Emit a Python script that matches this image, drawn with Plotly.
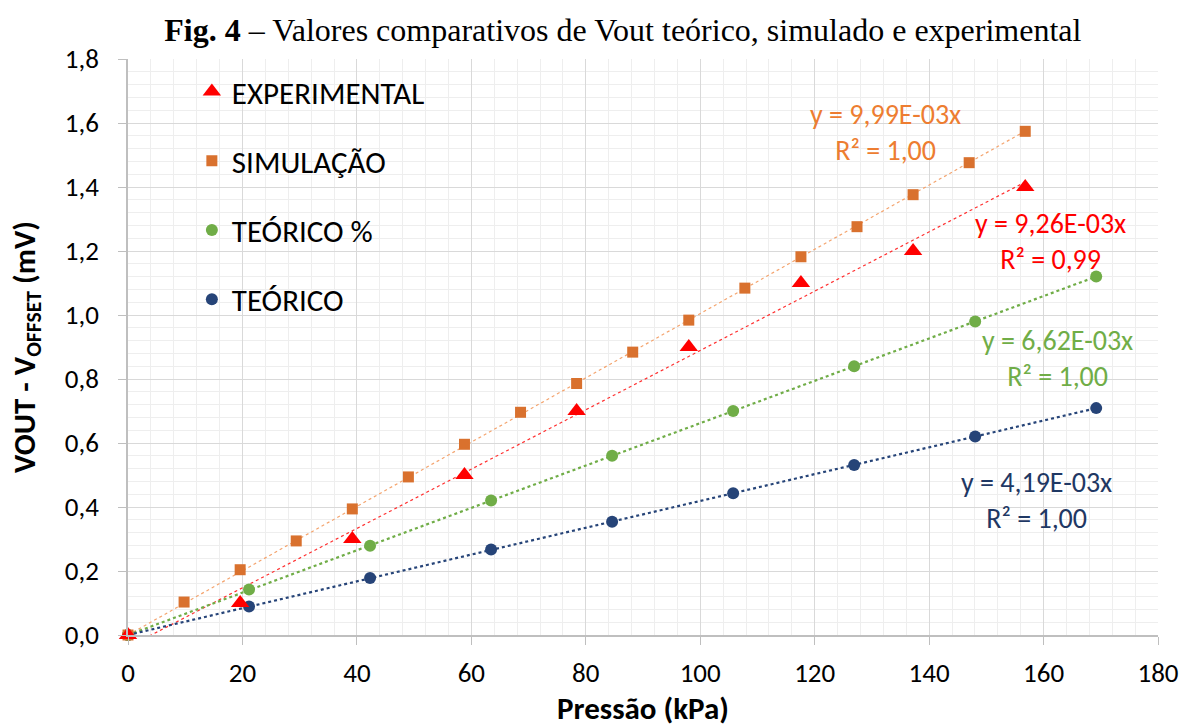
import numpy as np
import plotly.graph_objects as go

# ---- data ----
exp_x = [0, 19.6, 39.2, 58.8, 78.4, 98.0, 117.6, 137.2, 156.8]
exp_y = [0.0, 0.10, 0.30, 0.50, 0.70, 0.90, 1.10, 1.20, 1.40]

sim_x = [0, 9.8, 19.6, 29.4, 39.2, 49.0, 58.8, 68.6, 78.4, 88.2, 98.0,
         107.8, 117.6, 127.4, 137.2, 147.0, 156.8]
sim_y = [0.0, 0.103, 0.204, 0.294, 0.394, 0.494, 0.596, 0.696, 0.786, 0.884, 0.984,
         1.084, 1.182, 1.276, 1.376, 1.476, 1.574]

teo_x = [0, 21.15, 42.3, 63.45, 84.6, 105.75, 126.9, 148.05, 169.2]
teop_y = [0.0, 0.142, 0.279, 0.420, 0.560, 0.700, 0.840, 0.980, 1.120]
teo_y = [0.0, 0.089, 0.178, 0.267, 0.354, 0.443, 0.531, 0.620, 0.709]

names = ["EXPERIMENTAL", "SIMULAÇÃO", "TEÓRICO %", "TEÓRICO"]
colors = {"exp": "#FF0000", "sim": "#D9712E", "teop": "#70AD47", "teo": "#264478"}
eq_labels = {
    "sim": "y = 9,99E-03x<br>R² = 1,00",
    "exp": "y = 9,26E-03x<br>R² = 0,99",
    "teop": "y = 6,62E-03x<br>R² = 1,00",
    "teo": "y = 4,19E-03x<br>R² = 1,00",
}

FONT = "Calibri, Carlito, Lato, sans-serif"

fig = go.Figure()


def origin_fit(x, y):
    x = np.asarray(x, float); y = np.asarray(y, float)
    k = (x * y).sum() / (x * x).sum()
    xs = np.array([x.min(), x.max()])
    return xs, k * xs


def lin_fit(x, y):
    x = np.asarray(x, float); y = np.asarray(y, float)
    a, b = np.polyfit(x, y, 1)
    xs = np.array([x.min(), x.max()])
    return xs, a * xs + b

# trendlines
tx, ty = origin_fit(sim_x, sim_y)
fig.add_trace(go.Scatter(x=tx, y=ty, mode="lines", showlegend=False, hoverinfo="skip",
                         line=dict(color="#F4A46E", width=1.2, dash="dot")))
tx, ty = lin_fit(exp_x, exp_y)
fig.add_trace(go.Scatter(x=tx, y=ty, mode="lines", showlegend=False, hoverinfo="skip",
                         line=dict(color="#FF3030", width=1.2, dash="dot")))
tx, ty = origin_fit(teo_x, teop_y)
fig.add_trace(go.Scatter(x=tx, y=ty, mode="lines", showlegend=False, hoverinfo="skip",
                         line=dict(color=colors["teop"], width=2.2, dash="dot")))
tx, ty = origin_fit(teo_x, teo_y)
fig.add_trace(go.Scatter(x=tx, y=ty, mode="lines", showlegend=False, hoverinfo="skip",
                         line=dict(color=colors["teo"], width=2.2, dash="dot")))

# markers
fig.add_trace(go.Scatter(x=teo_x, y=teo_y, mode="markers", name=names[3], legendgroup="d",
                         legendrank=4, cliponaxis=False,
                         marker=dict(symbol="circle", size=12, color=colors["teo"])))
fig.add_trace(go.Scatter(x=teo_x, y=teop_y, mode="markers", name=names[2], legendgroup="c",
                         legendrank=3, cliponaxis=False,
                         marker=dict(symbol="circle", size=12, color=colors["teop"])))
fig.add_trace(go.Scatter(x=sim_x, y=sim_y, mode="markers", name=names[1], legendgroup="b",
                         legendrank=2, cliponaxis=False,
                         marker=dict(symbol="square", size=11, color=colors["sim"])))
fig.add_trace(go.Scatter(x=exp_x, y=exp_y, mode="markers", name=names[0], legendgroup="a",
                         legendrank=1, cliponaxis=False,
                         marker=dict(symbol="triangle-up", size=16, color=colors["exp"])))

# equation labels (centre of each two-line label, in data units)
label_pos = {
    "sim": (132.4, 1.570),
    "exp": (161.3, 1.230),
    "teop": (162.5, 0.864),
    "teo": (158.7, 0.419),
}
text_colors = {"sim": "#ED7D31", "exp": "#FF0000", "teop": "#70AD47", "teo": "#1F3864"}
for key, txt in eq_labels.items():
    xx, yy = label_pos[key]
    fig.add_annotation(x=xx, y=yy, xref="x", yref="y", text=txt, showarrow=False,
                       align="center", xanchor="center", yanchor="middle",
                       font=dict(family=FONT, size=28, color=text_colors[key]))

fig.update_layout(
    width=1183, height=727,
    margin=dict(l=128, r=25, t=59, b=92),
    paper_bgcolor="white", plot_bgcolor="white",
    separators=", ",
    title=dict(text="<b>Fig. 4</b> – Valores comparativos de Vout teórico, simulado e experimental",
               x=0.5265, xanchor="center", y=0.959, yanchor="middle",
               font=dict(family="Times New Roman, Liberation Serif, serif", size=32, color="black")),
    font=dict(family=FONT, color="black"),
    legend=dict(x=0.062, y=0.99, xanchor="left", yanchor="top", bgcolor="rgba(0,0,0,0)",
                font=dict(family=FONT, size=31, color="black"), tracegroupgap=26,
                traceorder="grouped"),
    showlegend=True,
)
fig.update_xaxes(range=[0, 180], dtick=20, tick0=0, showgrid=True, gridcolor="#D9D9D9", gridwidth=1,
                 minor=dict(dtick=4, showgrid=True, gridcolor="#EEEEEE", gridwidth=1),
                 showline=True, linecolor="#BFBFBF", linewidth=1.5, zeroline=False,
                 ticks="outside", ticklen=8, tickcolor="#BFBFBF", ticklabelstandoff=5,
                 ticklabeloverflow="allow", automargin=False,
                 tickfont=dict(family=FONT, size=27, color="black"),
                 title=dict(text="<b>Pressão (kPa)</b>", font=dict(family=FONT, size=31, color="black"),
                            standoff=16))
fig.update_yaxes(range=[0, 1.8], dtick=0.2, tick0=0, tickformat=".1f", showgrid=True, gridcolor="#D9D9D9",
                 gridwidth=1, minor=dict(dtick=0.04, showgrid=True, gridcolor="#EEEEEE", gridwidth=1),
                 showline=True, linecolor="#BFBFBF", linewidth=1.5, zeroline=False,
                 ticks="outside", ticklen=8, tickcolor="#BFBFBF", ticklabelstandoff=14,
                 automargin=False,
                 tickfont=dict(family=FONT, size=27, color="black"),
                 title=dict(text="<b>VOUT - V<sub>OFFSET</sub> (mV)</b>",
                            font=dict(family=FONT, size=31, color="black"), standoff=20))

fig.write_html("out.html", config={"displayModeBar": False},
               post_script="document.body.style.margin='0';")
